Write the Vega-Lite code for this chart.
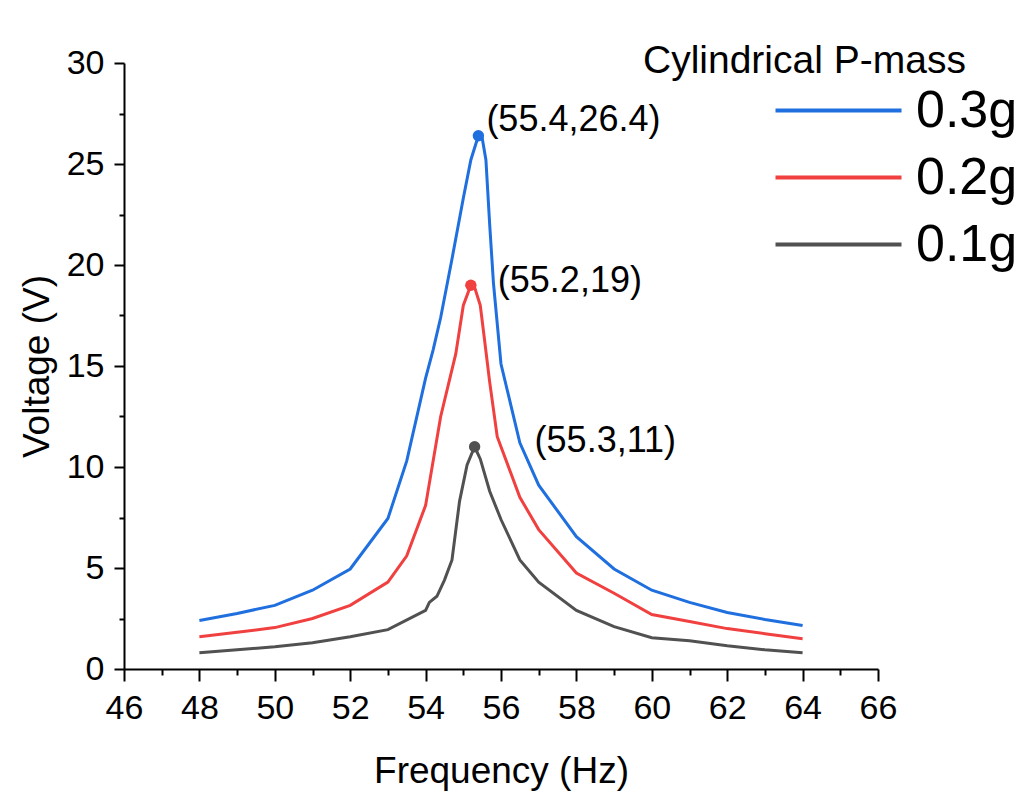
{
  "$schema": "https://vega.github.io/schema/vega-lite/v6.json",
  "autosize": "none",
  "width": 754,
  "height": 606,
  "padding": {"left": 124, "top": 63, "right": 146, "bottom": 122},
  "background": "white",
  "config": {
    "view": {"stroke": null},
    "font": "Liberation Sans",
    "axis": {"grid": false, "domainColor": "black", "domainWidth": 2, "tickColor": "black", "tickWidth": 2, "labelColor": "black", "titleColor": "black", "labelFont": "Liberation Sans", "titleFont": "Liberation Sans", "labelFontSize": 34, "titleFontSize": 37, "titleFontWeight": "normal"}
  },
  "datasets": {
    "curves": [
      {"mass": "0.3g", "f": 48, "v": 2.4},
      {"mass": "0.3g", "f": 49, "v": 2.75},
      {"mass": "0.3g", "f": 50, "v": 3.15},
      {"mass": "0.3g", "f": 51, "v": 3.9},
      {"mass": "0.3g", "f": 52, "v": 4.95},
      {"mass": "0.3g", "f": 53, "v": 7.45},
      {"mass": "0.3g", "f": 53.5, "v": 10.3},
      {"mass": "0.3g", "f": 54, "v": 14.4},
      {"mass": "0.3g", "f": 54.2, "v": 15.8},
      {"mass": "0.3g", "f": 54.4, "v": 17.4},
      {"mass": "0.3g", "f": 54.7, "v": 20.3},
      {"mass": "0.3g", "f": 55.0, "v": 23.3},
      {"mass": "0.3g", "f": 55.2, "v": 25.2},
      {"mass": "0.3g", "f": 55.4, "v": 26.4},
      {"mass": "0.3g", "f": 55.5, "v": 26.3},
      {"mass": "0.3g", "f": 55.6, "v": 25.2},
      {"mass": "0.3g", "f": 55.7, "v": 22.0},
      {"mass": "0.3g", "f": 55.8, "v": 19.1},
      {"mass": "0.3g", "f": 56, "v": 15.1},
      {"mass": "0.3g", "f": 56.5, "v": 11.2},
      {"mass": "0.3g", "f": 57, "v": 9.1},
      {"mass": "0.3g", "f": 58, "v": 6.55},
      {"mass": "0.3g", "f": 59, "v": 4.95},
      {"mass": "0.3g", "f": 60, "v": 3.9},
      {"mass": "0.3g", "f": 61, "v": 3.3},
      {"mass": "0.3g", "f": 62, "v": 2.8},
      {"mass": "0.3g", "f": 63, "v": 2.45},
      {"mass": "0.3g", "f": 64, "v": 2.15},
      {"mass": "0.2g", "f": 48, "v": 1.6},
      {"mass": "0.2g", "f": 49, "v": 1.82},
      {"mass": "0.2g", "f": 50, "v": 2.05},
      {"mass": "0.2g", "f": 51, "v": 2.5},
      {"mass": "0.2g", "f": 52, "v": 3.15},
      {"mass": "0.2g", "f": 53, "v": 4.3},
      {"mass": "0.2g", "f": 53.5, "v": 5.6},
      {"mass": "0.2g", "f": 54, "v": 8.1},
      {"mass": "0.2g", "f": 54.4, "v": 12.5},
      {"mass": "0.2g", "f": 54.8, "v": 15.6},
      {"mass": "0.2g", "f": 55.0, "v": 18.0},
      {"mass": "0.2g", "f": 55.2, "v": 19.0},
      {"mass": "0.2g", "f": 55.3, "v": 18.9},
      {"mass": "0.2g", "f": 55.45, "v": 18.0},
      {"mass": "0.2g", "f": 55.55, "v": 16.5},
      {"mass": "0.2g", "f": 55.7, "v": 14.2},
      {"mass": "0.2g", "f": 55.9, "v": 11.5},
      {"mass": "0.2g", "f": 56.5, "v": 8.5},
      {"mass": "0.2g", "f": 57, "v": 6.9},
      {"mass": "0.2g", "f": 58, "v": 4.75},
      {"mass": "0.2g", "f": 59, "v": 3.75},
      {"mass": "0.2g", "f": 60, "v": 2.7},
      {"mass": "0.2g", "f": 61, "v": 2.35},
      {"mass": "0.2g", "f": 62, "v": 2.0},
      {"mass": "0.2g", "f": 63, "v": 1.75},
      {"mass": "0.2g", "f": 64, "v": 1.5},
      {"mass": "0.1g", "f": 48, "v": 0.8},
      {"mass": "0.1g", "f": 49, "v": 0.95},
      {"mass": "0.1g", "f": 50, "v": 1.1},
      {"mass": "0.1g", "f": 51, "v": 1.3},
      {"mass": "0.1g", "f": 52, "v": 1.6},
      {"mass": "0.1g", "f": 53, "v": 1.95},
      {"mass": "0.1g", "f": 54, "v": 2.9},
      {"mass": "0.1g", "f": 54.1, "v": 3.3},
      {"mass": "0.1g", "f": 54.3, "v": 3.6},
      {"mass": "0.1g", "f": 54.5, "v": 4.4},
      {"mass": "0.1g", "f": 54.7, "v": 5.4},
      {"mass": "0.1g", "f": 54.9, "v": 8.3},
      {"mass": "0.1g", "f": 55.1, "v": 10.1},
      {"mass": "0.1g", "f": 55.3, "v": 11.0},
      {"mass": "0.1g", "f": 55.45, "v": 10.4},
      {"mass": "0.1g", "f": 55.7, "v": 8.8},
      {"mass": "0.1g", "f": 56, "v": 7.4},
      {"mass": "0.1g", "f": 56.5, "v": 5.4},
      {"mass": "0.1g", "f": 57, "v": 4.3},
      {"mass": "0.1g", "f": 58, "v": 2.9},
      {"mass": "0.1g", "f": 59, "v": 2.1},
      {"mass": "0.1g", "f": 60, "v": 1.55},
      {"mass": "0.1g", "f": 61, "v": 1.4},
      {"mass": "0.1g", "f": 62, "v": 1.15},
      {"mass": "0.1g", "f": 63, "v": 0.95},
      {"mass": "0.1g", "f": 64, "v": 0.8}
    ],
    "peaks": [
      {"mass": "0.3g", "f": 55.4, "v": 26.4, "label": "(55.4,26.4)"},
      {"mass": "0.2g", "f": 55.2, "v": 19, "label": "(55.2,19)"},
      {"mass": "0.1g", "f": 55.3, "v": 11, "label": "(55.3,11)"}
    ]
  },
  "encoding": {
    "x": {"field": "f", "type": "quantitative", "scale": {"domain": [46, 66], "nice": false, "zero": false},
      "axis": {"title": "Frequency (Hz)", "values": [46,47,48,49,50,51,52,53,54,55,56,57,58,59,60,61,62,63,64,65,66],
        "labelExpr": "datum.value % 2 === 0 ? datum.label : ''",
        "tickSize": {"condition": {"test": "datum.value % 2 === 0", "value": 12}, "value": 6},
        "labelPadding": 10, "titlePadding": 28, "labelFlush": false, "labelOverlap": false}},
    "y": {"field": "v", "type": "quantitative", "scale": {"domain": [0, 30], "nice": false},
      "axis": {"title": "Voltage (V)", "values": [0,2.5,5,7.5,10,12.5,15,17.5,20,22.5,25,27.5,30],
        "labelExpr": "datum.value % 5 === 0 ? datum.label : ''",
        "tickSize": {"condition": {"test": "datum.value % 5 === 0", "value": 10}, "value": 5},
        "labelPadding": 10, "titlePadding": 10, "labelFlush": false, "labelOverlap": false}}
  },
  "layer": [
    {
      "data": {"name": "curves"},
      "mark": {"type": "line", "strokeWidth": 3},
      "encoding": {
        "color": {"field": "mass", "type": "nominal",
          "scale": {"domain": ["0.3g", "0.2g", "0.1g"], "range": ["#1f6fdf", "#f0403f", "#515151"]},
          "legend": {"title": "Cylindrical P-mass", "orient": "none", "legendX": 519, "legendY": -21,
            "symbolType": "M-2,0H2", "symbolSize": 3969, "symbolStrokeWidth": 4, "symbolFillColor": "transparent",
            "symbolOffset": 162, "labelOffset": 44, "labelFontSize": 52, "labelFont": "Liberation Sans", "labelColor": "black",
            "titleFontSize": 39, "titleFont": "Liberation Sans", "titleFontWeight": "normal", "titleColor": "black",
            "titleAnchor": "start", "titlePadding": -4, "rowPadding": 7, "padding": 0, "labelLimit": 300, "titleLimit": 500}
        }
      }
    },
    {
      "data": {"name": "peaks"},
      "mark": {"type": "circle", "size": 130, "opacity": 1},
      "encoding": {"color": {"field": "mass", "type": "nominal", "legend": null}}
    },
    {
      "data": {"name": "peaks"},
      "transform": [{"filter": "datum.mass === '0.3g'"}],
      "mark": {"type": "text", "align": "left", "baseline": "middle", "dx": 8, "dy": -16, "fontSize": 36, "font": "Liberation Sans", "color": "black"},
      "encoding": {"text": {"field": "label"}}
    },
    {
      "data": {"name": "peaks"},
      "transform": [{"filter": "datum.mass === '0.2g'"}],
      "mark": {"type": "text", "align": "left", "baseline": "middle", "dx": 27, "dy": -4, "fontSize": 36, "font": "Liberation Sans", "color": "black"},
      "encoding": {"text": {"field": "label"}}
    },
    {
      "data": {"name": "peaks"},
      "transform": [{"filter": "datum.mass === '0.1g'"}],
      "mark": {"type": "text", "align": "left", "baseline": "middle", "dx": 60, "dy": -6, "fontSize": 36, "font": "Liberation Sans", "color": "black"},
      "encoding": {"text": {"field": "label"}}
    }
  ]
}
